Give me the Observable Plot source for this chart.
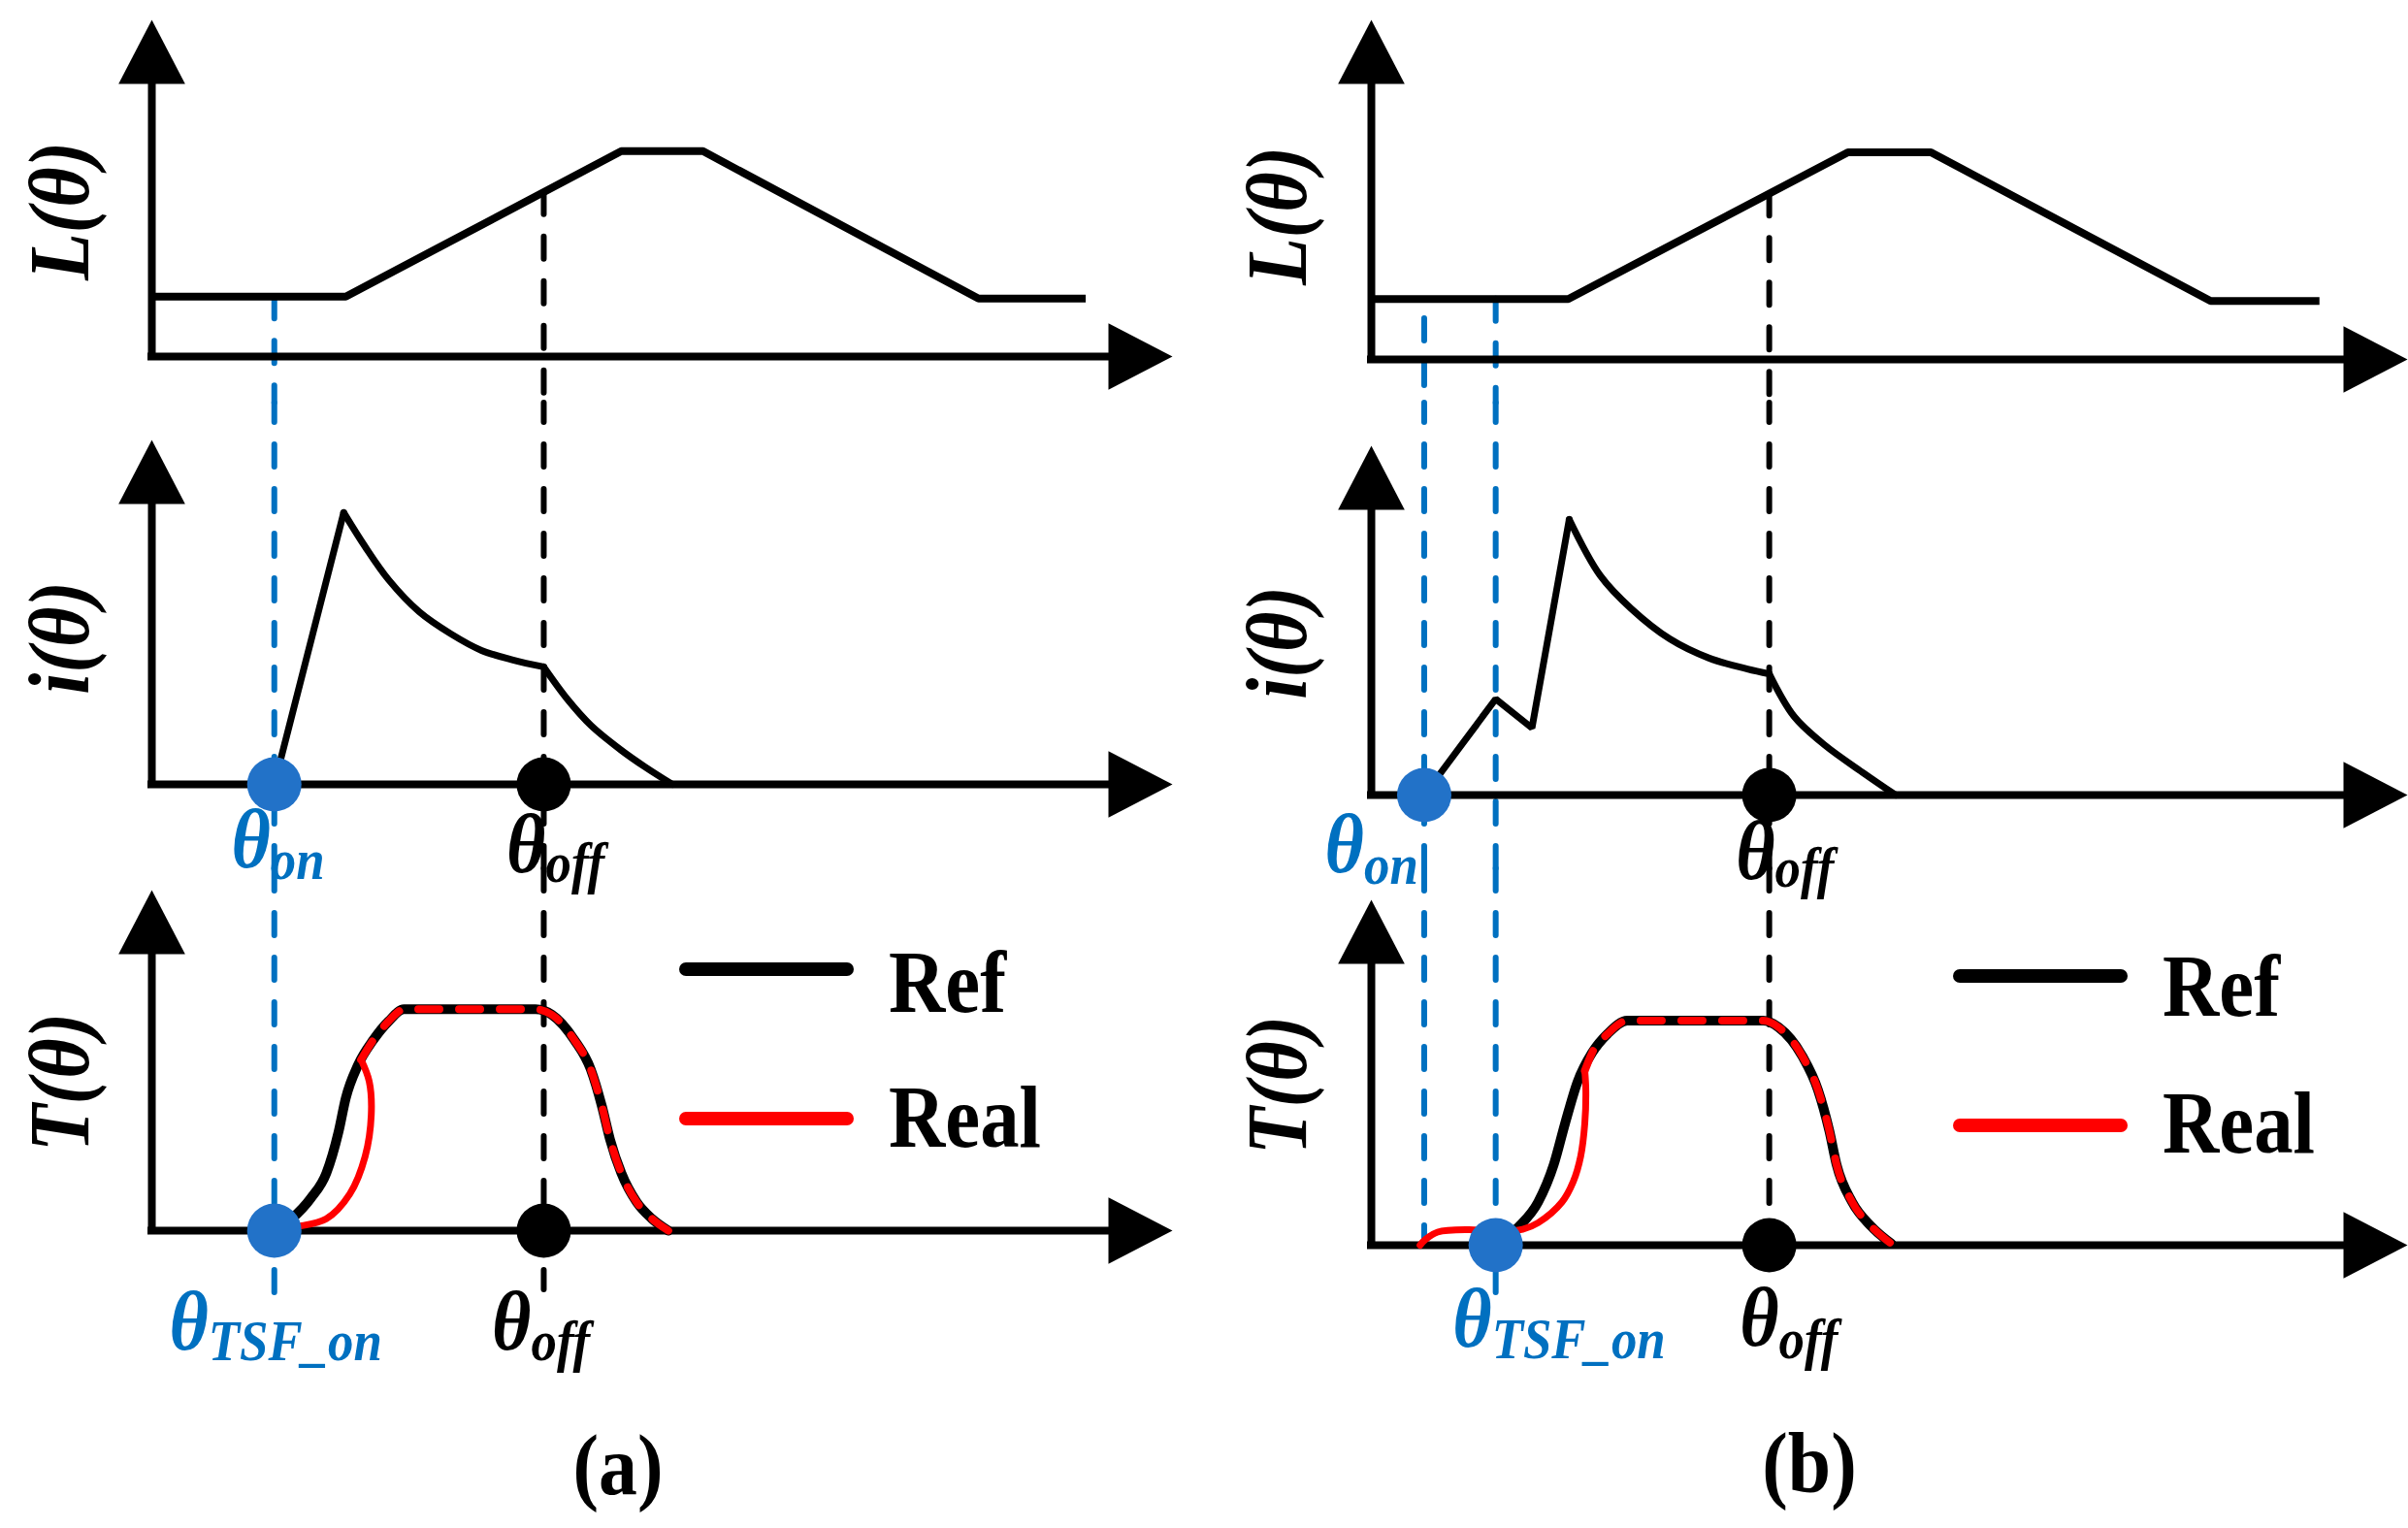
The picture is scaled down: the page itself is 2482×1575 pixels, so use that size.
<!DOCTYPE html>
<html>
<head>
<meta charset="utf-8">
<script src="https://cdn.jsdelivr.net/npm/d3@7"></script>
<script src="https://cdn.jsdelivr.net/npm/@observablehq/plot@0.6"></script>
<style>
  html, body { margin: 0; padding: 0; background: #fff; }
  #stage { position: relative; width: 2482px; height: 1575px; overflow: hidden; background: #fff;
           font-family: "Liberation Serif", "Times New Roman", serif; }
  .txt { position: absolute; font-weight: bold; line-height: 1; white-space: nowrap; color: #000; }
  .legline { position: absolute; }
</style>
</head>
<body>
<div id="stage"></div>
<script>
// ---------------- DATA (schematic units: angle axis 0 = origin, 100 = arrow tip) ----------------
const AXIS_MAX = 100;

// Inductance profile L(θ) (same in both panels)
const L_theta = [0, 19, 46, 54, 81, 91.5];
const L_value = [17.8, 17.8, 61, 61, 17.2, 17.2];

// Key angles
const thetaOn_a = 12, thetaTSF_a = 12, thetaOff_a = 38.4;
const thetaOn_b = 5.1, thetaTSF_b = 12, thetaOff_b = 38.4;

// Phase current i(θ), panel (a)
const iA_theta = [12, 18.8, 18.8, 20.9, 23.2, 26.2, 29.3, 32.3, 35.4, 38.4, 38.4, 40.7, 43.0, 46.0, 48.3, 51];
const iA_value = [0, 78.9, 78.9, 69.0, 59.4, 50.1, 43.7, 38.9, 36.1, 34.1, 34.1, 24.8, 17.2, 9.9, 5.1, 0];
const iA_phase = ["rise", "rise", "decay1", "decay1", "decay1", "decay1", "decay1", "decay1", "decay1", "decay1",
                  "decay2", "decay2", "decay2", "decay2", "decay2", "decay2"];

// Phase current i(θ), panel (b)
const iB_theta = [5.1, 12, 15.5, 19.1, 19.1, 22.1, 25.1, 28.8, 32.6, 36.3, 38.4, 38.4, 40.8, 43.8, 47.6, 50.6];
const iB_value = [0, 27.5, 19.2, 78.9, 78.9, 62.8, 53.3, 44.7, 39.2, 36.1, 34.7, 34.7, 22.5, 14.2, 6.1, 0];
const iB_phase = ["rise", "rise", "rise", "rise", "decay1", "decay1", "decay1", "decay1", "decay1", "decay1", "decay1",
                  "decay2", "decay2", "decay2", "decay2", "decay2"];

// Torque T(θ), panel (a)
const TrefA_theta = [12, 13.7, 15.6, 17.1, 18.3, 19.0, 20.2, 21.7, 23.2, 24.7, 37.6, 39.2, 41.4, 43.0, 44.1, 44.9, 46.0, 47.5, 49.0, 50.6];
const TrefA_value = [0, 3.5, 9.6, 16.9, 29.1, 38.9, 48.6, 56.0, 61.5, 65, 65, 63.4, 56.0, 47.4, 36.5, 26.7, 16.9, 8.4, 3.5, 0];
const TrealA_theta = [12, 14.1, 17.1, 19.4, 20.9, 21.5, 21.3, 20.5];
const TrealA_value = [0, 1.1, 3.5, 10.8, 21.8, 34.0, 43.8, 50.2];

// Torque T(θ), panel (b)
const TrefB_theta = [12, 14.2, 16.1, 17.6, 18.7, 19.9, 21.3, 22.8, 24.7, 37.8, 39.3, 41.6, 43.1, 44.2, 44.9, 46.4, 48.3, 50.2];
const TrefB_value = [0, 5.3, 12.5, 23.3, 35.3, 47.3, 55.7, 61.2, 65, 65, 63.1, 54.7, 45.0, 33.1, 23.3, 12.5, 5.3, 0.4];
const TrealB_theta = [4.7, 5.2, 6.4, 9.4, 12.4, 14.6, 16.1, 18.4, 19.5, 20.2, 20.6, 20.7, 20.6];
const TrealB_value = [0, 1.6, 3.8, 4.5, 4.0, 4.6, 6.5, 12.5, 18.5, 25.7, 35.3, 45.0, 50.5];

// Dashed guide lines: angle, kind, start value (in L plot), end value (in T plot)
const guideA_theta = [thetaOn_a, thetaOff_a];
const guideA_kind  = ["on", "off"];
const guideA_from  = [17.8, 48.8];
const guideA_to    = [-23, -17.4];
const guideB_theta = [thetaOn_b, thetaTSF_b, thetaOff_b];
const guideB_kind  = ["on", "on", "off"];
const guideB_from  = [12, 17.8, 48.8];
const guideB_to    = [0, -19, 0];

// Texts
const axisTitles = ["L(θ)", "i(θ)", "T(θ)"];
const legendLabels = ["Ref", "Real"];
const captions = ["(a)", "(b)"];
const subOn = "on", subOff = "off", subTSF = "TSF_on";

// ---------------- STYLE / LAYOUT ----------------
const FONT = '"Liberation Serif", "Times New Roman", serif';
const BLUE = "#0070C0", DOT_BLUE = "#2272C8", RED = "#FF0000", BLACK = "#000000";
const kindColor = {on: BLUE, off: BLACK};
const legendColors = [BLACK, RED];
const TALL = 1.12, NARROW = 0.89;   // the original type is slightly condensed

const layout = {
  a: {left: 0, ox: 156, tx: 1208,
      rows: {L: {axis: 367, tip: 20}, i: {axis: 808, tip: 453}, T: {axis: 1268, tip: 917}},
      titles: [[62, 217], [62, 657], [62, 1115]],
      lab: {iOn: {dx: -4, dy: 85, dys: 97}, iOff: {dx: 2, dy: 90, dys: 100},
            tOn: {dx: -68, dy: 122, dys: 133}, tOff: {dx: -13, dy: 122, dys: 133}},
      legend: {x1: 700, x2: 880, ys: [999, 1153], tx: 916, base: [1044, 1183]},
      caption: {cx: 637, base: 1540}},
  b: {left: 1241, ox: 1413, tx: 2481,
      rows: {L: {axis: 370, tip: 20}, i: {axis: 819, tip: 459}, T: {axis: 1283, tip: 927}},
      titles: [[1317, 222], [1317, 662], [1317, 1118]],
      lab: {iOn: {dx: -62, dy: 79, dys: 91}, iOff: {dx: 6, dy: 86, dys: 94},
            tOn: {dx: -4, dy: 104, dys: 116}, tOff: {dx: 10, dy: 103, dys: 116}},
      legend: {x1: 2013, x2: 2193, ys: [1006, 1160], tx: 2229, base: [1048, 1189]},
      caption: {cx: 1865, base: 1538}}
};
const bands = {L: {top: 0, height: 415}, i: {top: 415, height: 480}, T: {top: 895, height: 680}};
const COL_W = 1241;

// filled arrowhead symbols (tip at the data point)
const arrowRight = {draw(ctx, size) { const r = Math.sqrt(size / Math.PI), w = r * 0.52;
  ctx.moveTo(0, 0); ctx.lineTo(-r, -w); ctx.lineTo(-r, w); ctx.closePath(); }};
const arrowUp = {draw(ctx, size) { const r = Math.sqrt(size / Math.PI), w = r * 0.52;
  ctx.moveTo(0, 0); ctx.lineTo(-w, r); ctx.lineTo(w, r); ctx.closePath(); }};

const zip = (xs, ys, extra = {}) => xs.map((x, i) => {
  const o = {x, y: ys[i]};
  for (const k in extra) o[k] = extra[k][i];
  return o;
});

const stage = document.getElementById("stage");

function axesMarks() {
  return [
    Plot.ruleY([0], {x1: 0, x2: AXIS_MAX * 0.96, stroke: BLACK, strokeWidth: 8, strokeLinecap: "square"}),
    Plot.ruleX([0], {y1: 0, y2: AXIS_MAX * 0.96, stroke: BLACK, strokeWidth: 8, strokeLinecap: "square"}),
    Plot.dot([AXIS_MAX], {x: d => d, y: 0, symbol: arrowRight, r: 66, fill: BLACK, stroke: "none"}),
    Plot.dot([AXIS_MAX], {x: 0, y: d => d, symbol: arrowUp, r: 66, fill: BLACK, stroke: "none"})
  ];
}

function titleMark(col, idx) {
  const C = layout[col], key = ["L", "i", "T"][idx], B = bands[key];
  const [cx, cy] = C.titles[idx];
  return Plot.text([axisTitles[idx]], {frameAnchor: "top-left", text: d => d, dx: cx - C.left, dy: cy - B.top,
    rotate: -90, textAnchor: "middle", lineAnchor: "middle", fill: BLACK,
    fontSize: 80 * TALL, fontStyle: "italic", fontWeight: "bold", fontFamily: FONT});
}

function thetaLabel(theta, sub, color, o) {
  return [
    Plot.text([theta], {x: d => d, y: 0, text: () => "θ", textAnchor: "end", lineAnchor: "bottom",
      dx: o.dx, dy: o.dy, fill: color, fontSize: 78 * TALL, fontStyle: "italic", fontWeight: "bold", fontFamily: FONT}),
    Plot.text([theta], {x: d => d, y: 0, text: () => sub, textAnchor: "start", lineAnchor: "bottom",
      dx: o.dx, dy: o.dys, fill: color, fontSize: 53 * TALL, fontStyle: "italic", fontWeight: "bold", fontFamily: FONT})
  ];
}

function dotMarks(pts) {
  return Plot.dot(pts, {x: "x", y: 0, r: 28, fill: d => d.kind === "on" ? DOT_BLUE : BLACK, stroke: "none"});
}

function guideMarks(guides, rowKey, edgeTop, edgeBottom) {
  const common = {x: "x", stroke: d => kindColor[d.kind], strokeWidth: 6, strokeDasharray: "23,23", strokeLinecap: "round"};
  if (rowKey === "L") return Plot.ruleX(guides, {...common, y1: "from", y2: () => edgeBottom});
  if (rowKey === "i") return Plot.ruleX(guides, {...common, y1: () => edgeBottom, y2: () => edgeTop});
  return Plot.ruleX(guides, {...common, y1: () => edgeTop, y2: "to"});
}

function condenseText(svg) {
  svg.querySelectorAll("text").forEach(t => {
    const tr = t.getAttribute("transform");
    if (tr && tr.includes("translate")) {
      t.setAttribute("transform", tr + ` scale(${NARROW},1)`);
    } else {
      const x = +(t.getAttribute("x") || 0), y = +(t.getAttribute("y") || 0);
      t.removeAttribute("x"); t.removeAttribute("y");
      t.setAttribute("transform", `translate(${x},${y}) scale(${NARROW},1)` + (tr ? " " + tr : ""));
    }
  });
}

function place(col, rowKey, marksFn) {
  const C = layout[col], R = C.rows[rowKey], B = bands[rowKey];
  const k = (R.axis - R.tip) / AXIS_MAX;
  const edgeTop = (R.axis - B.top) / k;
  const edgeBottom = (R.axis - (B.top + B.height)) / k;
  const svg = Plot.plot({
    width: COL_W, height: B.height, margin: 0,
    x: {type: "linear", domain: [0, AXIS_MAX], range: [C.ox - C.left, C.tx - C.left], axis: null},
    y: {type: "linear", domain: [0, AXIS_MAX], range: [R.axis - B.top, R.tip - B.top], axis: null},
    style: {background: "transparent", overflow: "visible"},
    marks: marksFn(edgeTop, edgeBottom)
  });
  Object.assign(svg.style, {position: "absolute", left: C.left + "px", top: B.top + "px",
    width: COL_W + "px", height: B.height + "px", maxWidth: "none", overflow: "visible", background: "transparent"});
  condenseText(svg);
  stage.appendChild(svg);
}

function buildColumn(col, d) {
  const C = layout[col];
  const Lrows = zip(L_theta, L_value);
  const guides = d.guideTheta.map((x, i) => ({x, kind: d.guideKind[i], from: d.guideFrom[i], to: d.guideTo[i]}));
  const irows = zip(d.iTheta, d.iValue, {phase: d.iPhase});
  const tref = zip(d.TrefTheta, d.TrefValue);
  const treal = zip(d.TrealTheta, d.TrealValue);
  const join = treal[treal.length - 1];
  const overlay = [join, ...tref.filter(p => p.x > join.x + 0.3)];

  // L row
  place(col, "L", (eT, eB) => [
    guideMarks(guides, "L", eT, eB),
    ...axesMarks(),
    Plot.line(Lrows, {x: "x", y: "y", stroke: BLACK, strokeWidth: 8, strokeLinejoin: "miter", strokeLinecap: "butt"}),
    titleMark(col, 0)
  ]);

  // i row
  place(col, "i", (eT, eB) => [
    guideMarks(guides, "i", eT, eB),
    ...axesMarks(),
    Plot.line(irows.filter(p => p.phase === "rise"), {x: "x", y: "y", stroke: BLACK, strokeWidth: 7, strokeLinejoin: "miter"}),
    Plot.line(irows.filter(p => p.phase !== "rise"), {x: "x", y: "y", z: "phase", curve: "catmull-rom", stroke: BLACK, strokeWidth: 7}),
    dotMarks([{x: d.thetaOn, kind: "on"}, {x: d.thetaOff, kind: "off"}]),
    ...thetaLabel(d.thetaOn, subOn, BLUE, C.lab.iOn),
    ...thetaLabel(d.thetaOff, subOff, BLACK, C.lab.iOff),
    titleMark(col, 1)
  ]);

  // T row
  place(col, "T", (eT, eB) => [
    guideMarks(guides, "T", eT, eB),
    ...axesMarks(),
    Plot.line(tref, {x: "x", y: "y", curve: "monotone-x", stroke: BLACK, strokeWidth: 10, strokeLinecap: "round"}),
    Plot.line(treal, {x: "x", y: "y", curve: "catmull-rom", stroke: RED, strokeWidth: 7, strokeLinecap: "round"}),
    Plot.line(overlay, {x: "x", y: "y", curve: "monotone-x", stroke: RED, strokeWidth: 8, strokeDasharray: "22,20", strokeLinecap: "round"}),
    dotMarks([{x: d.thetaTSF, kind: "on"}, {x: d.thetaOff, kind: "off"}]),
    ...thetaLabel(d.thetaTSF, subTSF, BLUE, C.lab.tOn),
    ...thetaLabel(d.thetaOff, subOff, BLACK, C.lab.tOff),
    titleMark(col, 2)
  ]);

  // legend (HTML)
  const lg = C.legend;
  const lfs = 81 * TALL;
  legendLabels.forEach((lab, i) => {
    const line = document.createElement("div");
    line.className = "legline";
    Object.assign(line.style, {left: lg.x1 + "px", top: (lg.ys[i] - 7) + "px", width: (lg.x2 - lg.x1) + "px",
      height: "14px", borderRadius: "7px", background: legendColors[i]});
    stage.appendChild(line);
    const t = document.createElement("div");
    t.className = "txt";
    t.textContent = lab;
    Object.assign(t.style, {left: lg.tx + "px", top: (lg.base[i] - 0.8375 * lfs) + "px", fontSize: lfs + "px",
      transform: `scaleX(${NARROW})`, transformOrigin: "0 0"});
    stage.appendChild(t);
  });

  // caption
  const cfs = 80 * TALL;
  const cap = document.createElement("div");
  cap.className = "txt";
  cap.textContent = captions[col === "a" ? 0 : 1];
  Object.assign(cap.style, {left: (C.caption.cx - 200) + "px", width: "400px", textAlign: "center",
    top: (C.caption.base - 0.8375 * cfs) + "px", fontSize: cfs + "px",
    transform: `scaleX(${NARROW})`, transformOrigin: "50% 0"});
  stage.appendChild(cap);
}

buildColumn("a", {
  guideTheta: guideA_theta, guideKind: guideA_kind, guideFrom: guideA_from, guideTo: guideA_to,
  iTheta: iA_theta, iValue: iA_value, iPhase: iA_phase,
  TrefTheta: TrefA_theta, TrefValue: TrefA_value, TrealTheta: TrealA_theta, TrealValue: TrealA_value,
  thetaOn: thetaOn_a, thetaTSF: thetaTSF_a, thetaOff: thetaOff_a
});
buildColumn("b", {
  guideTheta: guideB_theta, guideKind: guideB_kind, guideFrom: guideB_from, guideTo: guideB_to,
  iTheta: iB_theta, iValue: iB_value, iPhase: iB_phase,
  TrefTheta: TrefB_theta, TrefValue: TrefB_value, TrealTheta: TrealB_theta, TrealValue: TrealB_value,
  thetaOn: thetaOn_b, thetaTSF: thetaTSF_b, thetaOff: thetaOff_b
});
</script>
</body>
</html>
